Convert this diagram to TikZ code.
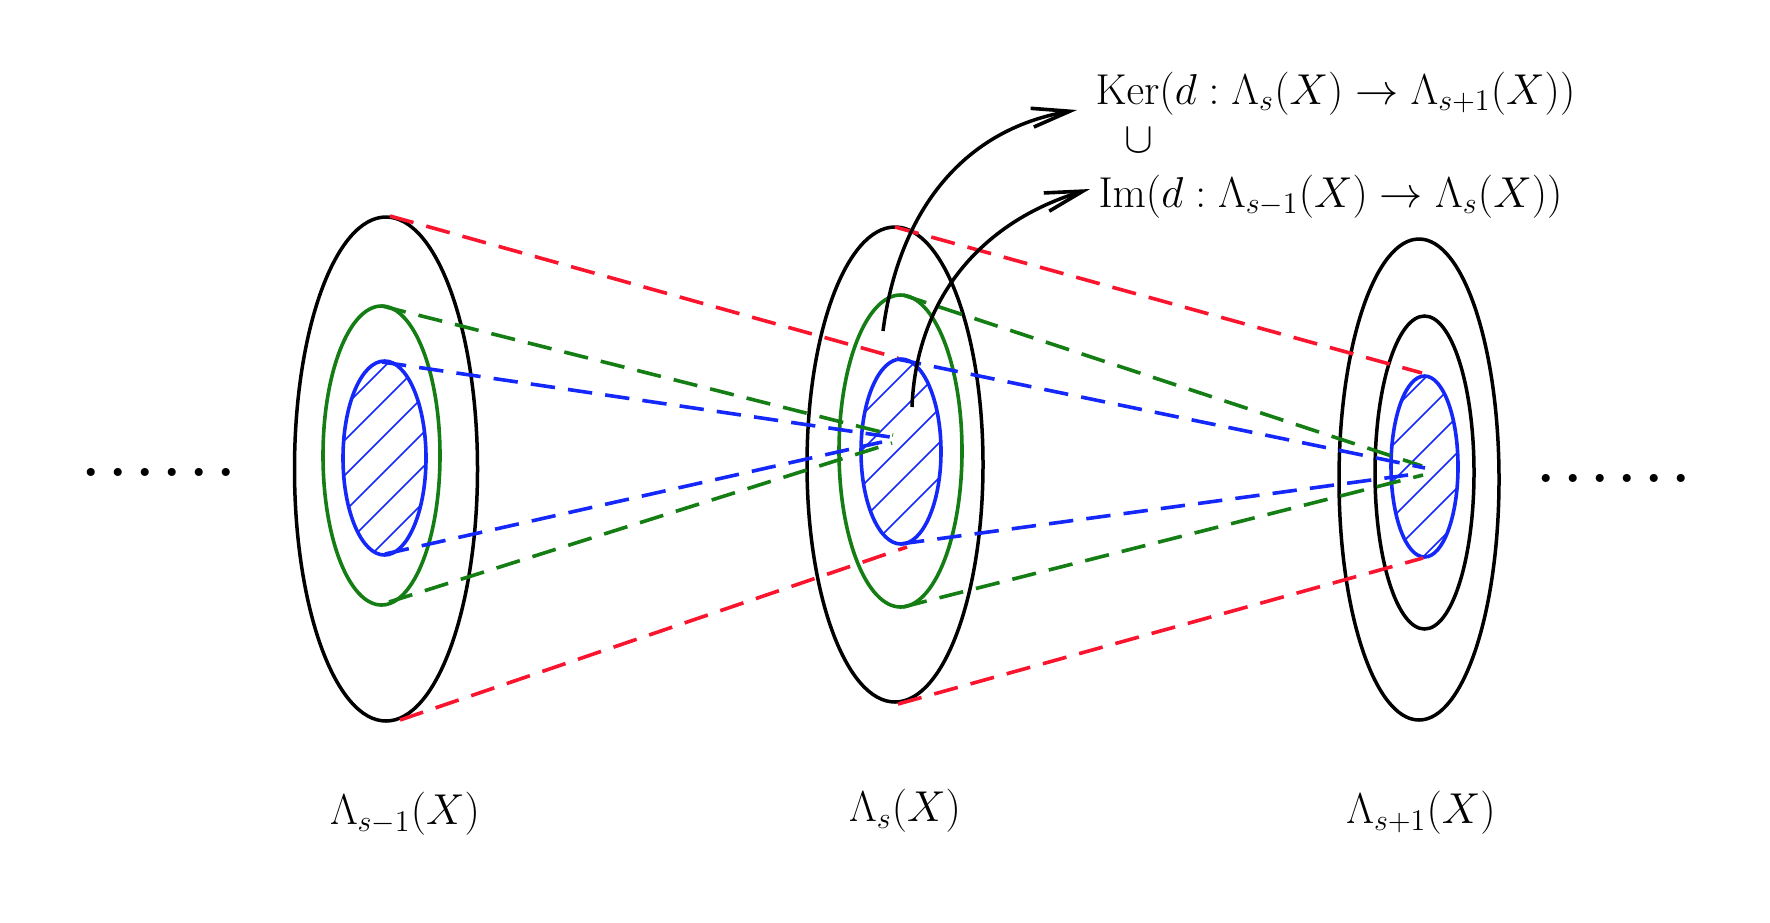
\documentclass[tikz,border=0pt]{standalone}
\usetikzlibrary{arrows.meta}
\definecolor{myblue}{RGB}{20,40,250}
\definecolor{mygreen}{RGB}{20,125,20}
\definecolor{myred}{RGB}{250,20,45}
\tikzset{
  ring/.style={line width=1.75pt},
  colring/.style={line width=1.8pt},
  dashline/.style={line width=1.8pt,dash pattern=on 12.2pt off 6.6pt},
  hatch/.style={myblue,line width=0.75pt},
  lab/.style={inner sep=0,scale=1.25,font=\fontsize{17.28}{21}\selectfont},
  dotrow/.style={inner sep=0,font=\fontsize{28}{30}\bfseries\selectfont},
  curvearrow/.style={line width=1.75pt,-{Straight Barb[length=19pt,width=9.5pt,line width=1.8pt]}},
}
\newcommand{\hatchin}[5]{% cx cy rx ry list of x+y
  \begin{scope}
    \clip (#1,#2) ellipse [x radius=#3,y radius=#4];
    \foreach \s in {#5} \draw[hatch] (\s-#2-150,#2+150) -- (\s-#2+150,#2-150);
  \end{scope}
}
\begin{document}
\begin{tikzpicture}[x=0.5pt,y=-0.5pt]
\useasboundingbox (0,0) rectangle (1770,922);
\fill[white] (0,0) rectangle (1770,922);
% hatching
\hatchin{384.5}{458}{41.5}{97}{751,785,820,856,890,926}
\hatchin{901}{451.5}{40}{92.5}{1277,1312,1348,1382,1417}
\hatchin{1424.5}{466.5}{33.5}{90.5}{1803,1838,1874,1910,1945,1980}
% ellipses
\draw[ring] (386,469) ellipse [x radius=91.5,y radius=252];
\draw[colring,mygreen] (381.5,455.5) ellipse [x radius=58.5,y radius=149.5];
\draw[colring,myblue] (384.5,458) ellipse [x radius=41.5,y radius=97];
\draw[ring] (895,464.5) ellipse [x radius=88,y radius=237.5];
\draw[colring,mygreen] (900.5,451) ellipse [x radius=61.5,y radius=156];
\draw[colring,myblue] (901,451.5) ellipse [x radius=40,y radius=92.5];
\draw[ring] (1419,479.5) ellipse [x radius=80,y radius=240.5];
\draw[ring] (1424.5,472.5) ellipse [x radius=49.5,y radius=156.5];
\draw[colring,myblue] (1424.5,466.5) ellipse [x radius=33.5,y radius=90.5];
% anchor points
\coordinate (lrt) at (390,216); \coordinate (lrb) at (400,720);
\coordinate (lgt) at (382,306); \coordinate (lgb) at (389,602);
\coordinate (lbt) at (382,362); \coordinate (lbb) at (385,554);
\coordinate (mrt) at (895,227); \coordinate (mrb) at (898,704);
\coordinate (mgt) at (903,295); \coordinate (mgb) at (903,607);
\coordinate (mbt) at (897,359); \coordinate (mbb) at (900,544);
\coordinate (mrta) at (898,358); \coordinate (mrba) at (907,547);
\coordinate (mga) at (893,435); \coordinate (mgc) at (892,443);
\coordinate (mba) at (897,438); \coordinate (mbc) at (882,442);
\coordinate (rrt) at (1422,373); \coordinate (rrb) at (1423,558);
\coordinate (rga) at (1422,466); \coordinate (rgc) at (1423,475);
\coordinate (rba) at (1425,468); \coordinate (rbc) at (1408,475);
% dashed
\draw[dashline,myred] (lrt) -- (mrta);
\draw[dashline,myred] (lrb) -- (mrba);
\draw[dashline,myred] (mrt) -- (rrt);
\draw[dashline,myred] (mrb) -- (rrb);
\draw[dashline,mygreen] (lgt) -- (mga);
\draw[dashline,mygreen] (lgb) -- (mgc);
\draw[dashline,mygreen] (mgt) -- (rga);
\draw[dashline,mygreen] (mgb) -- (rgc);
\draw[dashline,myblue] (lbt) -- (mba);
\draw[dashline,myblue] (lbb) -- (mbc);
\draw[dashline,myblue] (mbt) -- (rba);
\draw[dashline,myblue] (mbb) -- (rbc);
% labels
\node[lab,anchor=base west] (ker) at (1095,104) {$\mathrm{Ker}(d:\Lambda_s(X)\to\Lambda_{s+1}(X))$};
\node[lab] (cup) at (1139,140) {$\cup$};
\node[lab,anchor=base west] (im) at (1098,207) {$\mathrm{Im}(d:\Lambda_{s-1}(X)\to\Lambda_s(X))$};
\node[lab] (la) at (405,814) {$\Lambda_{s-1}(X)$};
\node[lab] (lb) at (905,811) {$\Lambda_s(X)$};
\node[lab] (lc) at (1421,813) {$\Lambda_{s+1}(X)$};
\node[dotrow] (dl) at (159,472) {.\kern4.7pt.\kern4.7pt.\kern4.7pt.\kern4.7pt.\kern4.7pt.};
\node[dotrow] (dr) at (1614,478) {.\kern4.7pt.\kern4.7pt.\kern4.7pt.\kern4.7pt.\kern4.7pt.};
% arrows
\coordinate (s1) at (883,331); \coordinate (s2) at (912,407);
\draw[curvearrow] (s1) .. controls (898,215) and (960,130) .. (1077,110);
\draw[curvearrow] (s2) .. controls (916,300) and (980,222) .. (1090,189);
\end{tikzpicture}
\end{document}
